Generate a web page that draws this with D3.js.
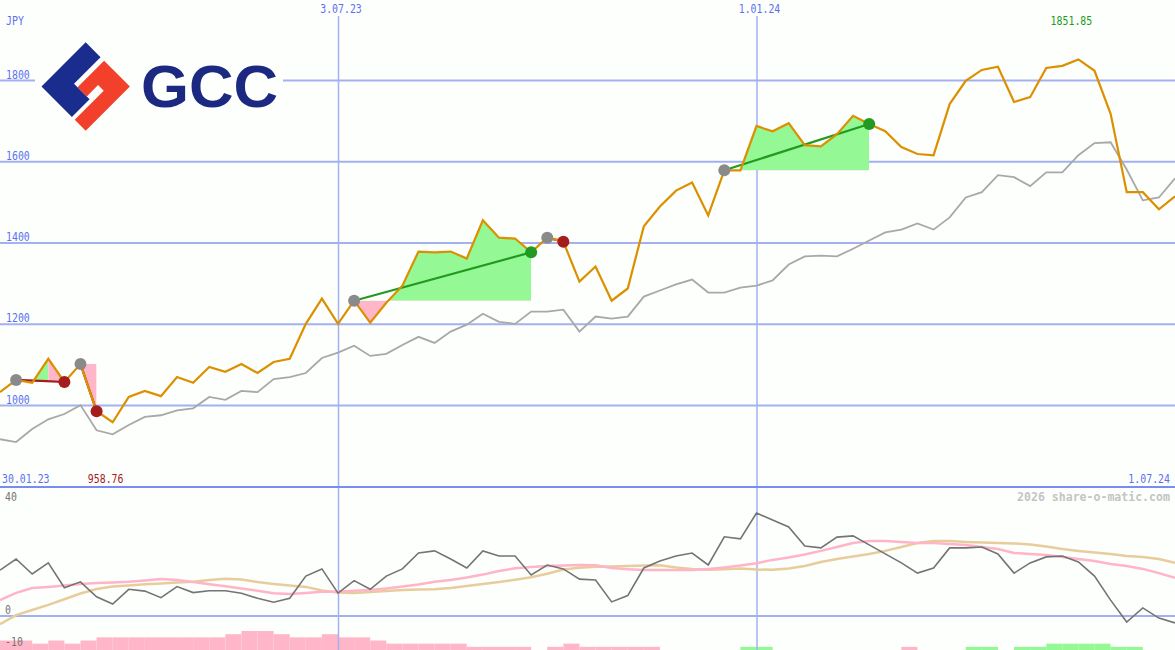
<!DOCTYPE html>
<html><head><meta charset="utf-8">
<script src="https://cdn.jsdelivr.net/npm/d3@7"></script>
<style>html,body{margin:0;padding:0;background:#fcfffc;} svg{display:block}</style>
</head><body>
<svg id="c" width="1175" height="650"></svg>
<script>
// ---------- data ----------
const weeks = ["06.02.23","13.02.23","20.02.23","27.02.23","06.03.23","13.03.23","20.03.23","27.03.23",
"03.04.23","10.04.23","17.04.23","24.04.23","01.05.23","08.05.23","15.05.23","22.05.23","29.05.23",
"05.06.23","12.06.23","19.06.23","26.06.23","03.07.23","10.07.23","17.07.23","24.07.23","31.07.23",
"07.08.23","14.08.23","21.08.23","28.08.23","04.09.23","11.09.23","18.09.23","25.09.23",
"02.10.23","09.10.23","16.10.23","23.10.23","30.10.23","06.11.23","13.11.23","20.11.23","27.11.23",
"04.12.23","11.12.23","18.12.23","25.12.23","01.01.24","08.01.24","15.01.24","22.01.24","29.01.24",
"05.02.24","12.02.24","19.02.24","26.02.24","04.03.24","11.03.24","18.03.24","25.03.24",
"01.04.24","08.04.24","15.04.24","22.04.24","29.04.24","06.05.24","13.05.24","20.05.24","27.05.24",
"03.06.24","10.06.24","17.06.24","24.06.24","01.07.24"];
const price = [1033,1063,1056,1115,1058,1102,986,958.76,1021,1036,1023,1070,1056,1095,1083,1102,
1080,1107,1115,1201,1263,1201,1258,1204,1253,1295,1379,1377,1379,1362,1456,1413,1411,1377,1413,1403,
1305,1342,1258,1288,1441,1490,1529,1549,1468,1579,1579,1688,1675,1695,1641,1638,1668,1713,1693,1675,
1636,1619,1616,1742,1799,1826,1834,1747,1759,1831,1836,1851.85,1824,1718,1525,1525,1483,1515];
const benchmark = [917,910,942,966,979,1001,939,929,952,972,976,988,993,1021,1014,1036,
1033,1065,1070,1080,1117,1130,1147,1122,1127,1149,1169,1154,1182,1199,1226,
1206,1201,1231,1231,1236,1182,1219,1214,1219,1268,1283,1298,1310,1278,1278,1290,
1295,1308,1347,1367,1369,1367,1386,1406,1426,1433,1448,1433,1463,1512,1525,
1567,1562,1540,1574,1574,1616,1646,1648,1581,1505,1512,1559];
const oscillator = [15.3,19,14,17.7,9.4,11.4,6.4,4,8.9,8.3,6.1,9.8,7.8,8.4,8.4,7.6,5.9,4.6,5.9,13.3,15.7,7.6,11.8,8.9,13.3,
15.7,21,21.7,19,16,21.7,20,20,13.7,17,15.7,12.3,12,4.7,6.8,16,18.3,20,21,17,26.4,25.7,34.3,32,29.7,
23.3,22.7,26.3,26.7,23.7,20.7,17.7,14.3,16,22.7,22.7,23,20.7,14.3,17.7,19.7,20,18,13.3,5.3,-2,2.7,-0.7,-2.3];
const oscAvgFast = [5.3,7.7,9.3,9.7,10.2,10.7,11,11.2,11.4,11.8,12.3,12,11.3,10.6,9.9,9.2,8.4,7.6,7.3,7.7,8.1,8.1,8.4,8.7,9.2,
9.8,10.5,11.4,12,12.8,13.8,15,15.9,16.3,16.7,16.8,17,16.9,16,15.6,15.3,15.3,15.3,15.3,15.7,16.2,16.8,17.6,18.7,19.5,
20.5,21.7,23,24.3,25,25,24.7,24.3,24.3,24,23.7,23,22.3,21,20.7,20.3,19.7,19,18.3,17.3,16.7,15.7,14.3,12.7];
const oscAvgSlow = [-2.7,0.3,2,3.7,5.6,7.5,9,9.8,10.2,10.6,10.8,11.2,11.4,12,12.4,12.2,11.3,10.7,10.2,9.7,8.5,7.8,7.7,8,8.3,
8.7,8.8,8.9,9.3,10,10.7,11.3,12.1,12.9,14.1,15.5,16.1,16.4,16.5,16.7,16.8,16.9,16.2,15.7,15.4,15.6,15.8,15.5,15.4,15.8,
16.7,18,19,19.8,20.7,21.7,23,24.3,25,25,24.7,24.5,24.3,24.2,23.8,23.2,22.3,21.7,21.2,20.7,20,19.7,19,17.7];
const signalBars = [-3,-3,-2,-3,-2,-3,-4,-4,-4,-4,-4,-4,-4,-4,-5,-6,-6,-5,-4,-4,-5,-4,-4,-3,
-2,-2,-2,-2,-2,-1,-1,-1,-1,0,-1,-2,-1,-1,-1,-1,-1,0,0,0,0,0,1,1,
0,0,0,0,0,0,0,0,-1,0,0,0,1,1,0,1,1,2,2,2,2,1,1,0,0,0];
const priceTicks = [1000,1200,1400,1600,1800];
const dateTicks = ["03.07.23","01.01.24"];
const dateTickLabels = ["3.07.23","1.01.24"];
const oscTicks = [40,0,-10];
const startLabel = "30.01.23", endLabel = "1.07.24", currency = "JPY";
const trades = [
  {entry:1, exit:4, fills:[{from:1,to:3,mode:"auto"},{from:3,to:4,mode:"loss"}]},
  {entry:5, exit:6},
  {entry:22, exit:33},
  {entry:34, exit:35},
  {entry:45, exit:54}
];

// ---------- setup ----------
const W = 1175, H = 650;
const parse = d3.timeParse("%d.%m.%y");
const dates = weeks.map(parse);
const svg = d3.select("#c");
const x = d3.scaleTime().domain([parse("06.02.23"), parse("01.07.24")]).range([0, W]);
const y = d3.scaleLinear().domain([1000, 1800]).range([405.5, 80.5]);
const yo = d3.scaleLinear().domain([-10, 40]).range([646, 496]);
const yb = d3.scaleLinear().domain([0, 6]).range([650, 631]);

const C = {
  bg:"#fcfffc", grid:"#a3b1f0", sep:"#7b8cf0", label:"#5d6ff0",
  price:"#dc9000", bench:"#a8a8a8", green:"#94f894", pink:"#ffb6c8",
  win:"#229a22", loss:"#a51c1c", dot:"#8a8a8a",
  osc:"#747474", fast:"#ffb4c8", slow:"#e8cc9c"
};
const mono = "DejaVu Sans Mono, monospace";

svg.append("rect").attr("width", W).attr("height", H).attr("fill", C.bg);

// signal bars
svg.append("g").selectAll("rect").data(signalBars.map((v,i)=>({v,i})).filter(d=>d.v!==0))
  .join("rect")
  .attr("x", d => x(dates[d.i]))
  .attr("width", d => x(d3.timeDay.offset(dates[d.i], 7)) - x(dates[d.i]))
  .attr("y", d => yb(Math.abs(d.v)))
  .attr("height", d => yb(0) - yb(Math.abs(d.v)))
  .attr("fill", d => d.v > 0 ? C.green : C.pink);

// grid
const grid = svg.append("g");
grid.selectAll("line.h").data(priceTicks).join("line")
  .attr("x1", 0).attr("x2", W).attr("y1", d => y(d)).attr("y2", d => y(d))
  .attr("stroke", C.grid).attr("stroke-width", 2);
grid.append("line").attr("x1",0).attr("x2",W).attr("y1",yo(0)).attr("y2",yo(0))
  .attr("stroke", C.grid).attr("stroke-width", 2);
grid.selectAll("line.v").data(dateTicks).join("line")
  .attr("x1", d => x(parse(d)) + 0.5).attr("x2", d => x(parse(d)) + 0.5)
  .attr("y1", 16).attr("y2", H)
  .attr("stroke", C.grid).attr("stroke-width", 1.5);
grid.append("line").attr("x1",0).attr("x2",W).attr("y1",487).attr("y2",487)
  .attr("stroke", C.sep).attr("stroke-width", 2);

// logo
const logo = svg.append("g");
logo.append("rect").attr("x",35).attr("y",32).attr("width",248).attr("height",106).attr("fill","#fdfffd");
const lg = logo.append("g").attr("transform","translate(41.5,86.5) rotate(-45)");
lg.append("polygon").attr("points","0,0 62.5,0 62.5,21 25,21 25,43 0,43").attr("fill","#1a2d8f");
lg.append("polygon").attr("points","25,26 62.5,26 62.5,62.5 0,62.5 0,47 41,47 41,39 25,39").attr("fill","#f2402a");
logo.append("text").attr("x",141).attr("y",107).text("GCC")
  .attr("font-family","Liberation Sans, Arial, sans-serif").attr("font-weight","bold")
  .attr("font-size",60).attr("textLength",137).attr("lengthAdjust","spacingAndGlyphs")
  .attr("fill","#1b2a80");

// lower panel lines
const lineOsc = arr => d3.line().x((d,i)=>x(dates[i])).y(d=>yo(d))(arr);
svg.append("path").attr("d", lineOsc(oscAvgSlow)).attr("fill","none").attr("stroke",C.slow).attr("stroke-width",2.5);
svg.append("path").attr("d", lineOsc(oscAvgFast)).attr("fill","none").attr("stroke",C.fast).attr("stroke-width",2.5);
svg.append("path").attr("d", lineOsc(oscillator)).attr("fill","none").attr("stroke",C.osc).attr("stroke-width",1.6);

// benchmark
const linePx = arr => d3.line().x((d,i)=>x(dates[i])).y(d=>y(d))(arr);
svg.append("path").attr("d", linePx(benchmark)).attr("fill","none").attr("stroke",C.bench).attr("stroke-width",1.8);

// trade fills
const defs = svg.append("defs");
const fillG = svg.append("g");
trades.forEach((t, ti) => {
  const level = price[t.entry];
  const fills = t.fills || [{from:t.entry, to:t.exit, mode:"auto"}];
  fills.forEach((f, fi) => {
    const idx = d3.range(f.from, f.to + 1);
    const area = d3.area().x(i => x(dates[i])).y0(y(level)).y1(i => y(price[i]))(idx);
    const x0 = x(dates[f.from]), x1 = x(dates[f.to]);
    if (f.mode === "loss") {
      fillG.append("path").attr("d", area).attr("fill", C.pink);
    } else {
      const idA = `ca${ti}_${fi}`, idB = `cb${ti}_${fi}`;
      defs.append("clipPath").attr("id", idA).append("rect")
        .attr("x", x0).attr("width", x1 - x0).attr("y", 0).attr("height", y(level));
      defs.append("clipPath").attr("id", idB).append("rect")
        .attr("x", x0).attr("width", x1 - x0).attr("y", y(level)).attr("height", H);
      fillG.append("path").attr("d", area).attr("fill", C.green).attr("clip-path", `url(#${idA})`);
      fillG.append("path").attr("d", area).attr("fill", C.pink).attr("clip-path", `url(#${idB})`);
    }
  });
});
// trade lines
svg.append("g").selectAll("line").data(trades).join("line")
  .attr("x1", t => x(dates[t.entry])).attr("y1", t => y(price[t.entry]))
  .attr("x2", t => x(dates[t.exit])).attr("y2", t => y(price[t.exit]))
  .attr("stroke", t => price[t.exit] > price[t.entry] ? C.win : C.loss).attr("stroke-width", 2.2);

// price line
svg.append("path").attr("d", linePx(price)).attr("fill","none").attr("stroke",C.price).attr("stroke-width",2.2);

// dots
const dots = svg.append("g");
trades.forEach(t => {
  dots.append("circle").attr("cx", x(dates[t.entry])).attr("cy", y(price[t.entry])).attr("r", 6).attr("fill", C.dot);
  dots.append("circle").attr("cx", x(dates[t.exit])).attr("cy", y(price[t.exit])).attr("r", 6)
    .attr("fill", price[t.exit] > price[t.entry] ? C.win : C.loss);
});

// texts: monospace sized to the reference's character pitch, stretched vertically
const txt = (s, xx, yy, fill, anchor="start", cw=5.95, sy=1.22, weight="normal") => {
  const len = s.length * cw;
  const sx = anchor === "end" ? xx - len : (anchor === "middle" ? xx - len / 2 : xx);
  return svg.append("text").attr("x", 0).attr("y", 0).text(s).attr("fill", fill)
    .attr("transform", `translate(${sx},${yy}) scale(1,${sy})`)
    .attr("font-family", mono).attr("font-size", cw / 0.602)
    .attr("font-weight", weight);
};
txt(currency, 6, 25, C.label);
priceTicks.forEach(v => txt(String(v), 6, y(v) - 2, C.label));
dateTicks.forEach((d, i) => txt(dateTickLabels[i], x(parse(d)) + 3, 13, C.label, "middle"));
txt(startLabel, 2, 483, C.label);
txt(endLabel, 1170, 483, C.label, "end");
const iMax = d3.maxIndex(price), iMin = d3.minIndex(price);
const f2 = d3.format(".2f");
txt(f2(price[iMax]), x(dates[iMax]) - 7, 25, C.win, "middle");
txt(f2(price[iMin]), x(dates[iMin]) - 7, 483, C.loss, "middle");
oscTicks.forEach(v => txt(String(v), 5, v === 40 ? 501 : (v === 0 ? 614 : 646), C.osc));
txt("2026 share-o-matic.com", 1170, 501, "#c4c4c4", "end", 6.95, 1.1, "bold");
</script>
</body></html>
